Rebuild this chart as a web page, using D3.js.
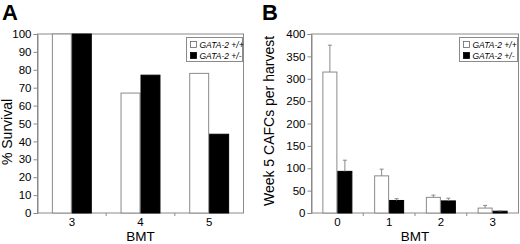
<!DOCTYPE html>
<html><head><meta charset="utf-8">
<script src="https://cdn.jsdelivr.net/npm/d3@7"></script>
<style>body{margin:0;background:#fff}svg{display:block;font-family:"Liberation Sans",Arial,sans-serif}</style>
</head><body>
<svg id="c" width="520" height="244"></svg>
<script>
// ---- data ----
const seriesNames = ["GATA-2 +/+", "GATA-2 +/-"];
const catsA = ["3", "4", "5"];
const survWT = [100, 67, 78];
const survHet = [100, 77, 44];
const ticksA = [0,10,20,30,40,50,60,70,80,90,100];

const catsB = ["0", "1", "2", "3"];
const cafcWT = [315, 83, 35, 11];
const cafcHet = [93, 28, 27, 4];
const errWT = [60, 15, 5, 6];
const errHet = [25, 4, 6, 1];
const ticksB = [0,50,100,150,200,250,300,350,400];

const svg = d3.select("#c");
const fills = ["#fff", "#000"];
const strokes = ["#8a8a8a", "#000"];
const frameCol = "#8a8a8a";

function panel(o) {
  const g = svg.append("g");
  const x = d3.scaleBand().domain(o.cats).range([o.left, o.right]);
  const x1 = d3.scaleBand().domain([0,1]).range([0, x.bandwidth()]).paddingOuter(o.po);
  const y = d3.scaleLinear().domain([0, o.max]).range([o.bottom, o.top]);

  // frame
  g.append("rect").attr("x", o.left).attr("y", o.top)
    .attr("width", o.right - o.left).attr("height", o.bottom - o.top)
    .attr("fill", "none").attr("stroke", frameCol).attr("stroke-width", 1);

  // y axis
  const ya = g.append("g").attr("transform", `translate(${o.left},0)`)
    .call(d3.axisLeft(y).tickValues(o.ticks).tickSize(4).tickPadding(2));
  ya.select(".domain").attr("stroke", frameCol);
  ya.selectAll(".tick line").attr("stroke", frameCol);
  ya.selectAll("text").attr("font-size", 11.5).attr("fill", "#000").attr("font-family", "Liberation Sans, Arial");

  // x axis
  const xa = g.append("g").attr("transform", `translate(0,${o.bottom})`)
    .call(d3.axisBottom(x).tickSize(0).tickPadding(5));
  xa.select(".domain").remove();
  xa.selectAll("text").attr("font-size", 11.5).attr("fill", "#000").attr("font-family", "Liberation Sans, Arial");
  // category separator ticks
  g.selectAll(".sep").data(o.cats.slice(1)).enter().append("line")
    .attr("x1", d => x(d)).attr("x2", d => x(d))
    .attr("y1", o.bottom).attr("y2", o.bottom + 3)
    .attr("stroke", frameCol);

  // bars
  o.series.forEach((vals, si) => {
    g.selectAll(null).data(vals).enter().append("rect")
      .attr("x", (d, i) => x(o.cats[i]) + x1(si) + 0.5)
      .attr("y", d => y(d))
      .attr("width", x1.bandwidth() - 1)
      .attr("height", d => o.bottom - y(d))
      .attr("fill", fills[si]).attr("stroke", strokes[si]).attr("stroke-width", 1);
    if (o.errs) {
      const errs = o.errs[si];
      const cx = i => x(o.cats[i]) + x1(si) + x1.bandwidth() / 2;
      g.selectAll(null).data(vals).enter().append("line")
        .attr("x1", (d, i) => cx(i)).attr("x2", (d, i) => cx(i))
        .attr("y1", d => y(d)).attr("y2", (d, i) => y(d + errs[i]))
        .attr("stroke", "#888").attr("stroke-width", 1);
      g.selectAll(null).data(vals).enter().append("line")
        .attr("x1", (d, i) => cx(i) - 2).attr("x2", (d, i) => cx(i) + 2)
        .attr("y1", (d, i) => y(d + errs[i])).attr("y2", (d, i) => y(d + errs[i]))
        .attr("stroke", "#888").attr("stroke-width", 1);
    }
  });

  // axis titles
  g.append("text").attr("x", (o.left + o.right) / 2).attr("y", 240.5)
    .attr("text-anchor", "middle").attr("font-size", 13.5).text("BMT");
  g.append("text").attr("transform", `translate(${o.ytx},${o.yty}) rotate(-90)`)
    .attr("text-anchor", "middle").attr("font-size", 14).text(o.ytitle);

  // panel letter
  g.append("text").attr("x", o.lx).attr("y", 20).attr("font-size", 22)
    .attr("font-weight", "bold").attr("font-family", "Liberation Sans, Arial").text(o.letter);

  // legend
  const L = g.append("g").attr("transform", `translate(${o.legX},${o.legY})`);
  L.append("rect").attr("x", 0).attr("y", 0).attr("width", o.legW).attr("height", 24)
    .attr("fill", "#fff").attr("stroke", frameCol);
  seriesNames.forEach((s, i) => {
    L.append("rect").attr("x", 4).attr("y", 4 + i * 11).attr("width", 6).attr("height", 6)
      .attr("fill", fills[i]).attr("stroke", i ? "#000" : "#666").attr("stroke-width", 0.8);
    L.append("text").attr("x", 13).attr("y", 10.5 + i * 11).attr("font-size", 8.5)
      .attr("font-style", "italic").text(s);
  });
}

panel({
  cats: catsA, series: [survWT, survHet], max: 100, ticks: ticksA,
  left: 37.5, right: 243.5, top: 34, bottom: 213, po: 0.72,
  ytitle: "% Survival", ytx: 12, yty: 132, letter: "A", lx: 2,
  legX: 186.5, legY: 37.5, legW: 56
});
panel({
  cats: catsB, series: [cafcWT, cafcHet], errs: [errWT, errHet], max: 400, ticks: ticksB,
  left: 311.5, right: 518.5, top: 34, bottom: 213, po: 0.725,
  ytitle: "Week 5 CAFCs per harvest", ytx: 274, yty: 121, letter: "B", lx: 262,
  legX: 459.5, legY: 37.5, legW: 58
});
</script>
</body></html>
